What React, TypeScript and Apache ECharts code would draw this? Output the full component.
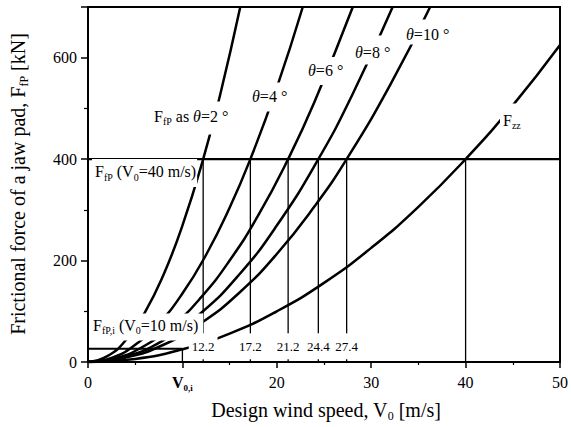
import React, { useEffect, useRef } from 'react';
import * as echarts from 'echarts';

const SERIF = '"Liberation Serif", "Times New Roman", serif';

// Curves: design wind speed V0 [m/s] vs frictional force [kN]
const theta2V = [0, 2, 4, 6, 8, 10, 12.2, 14, 16.13];
const theta2F = [0, 11, 43, 97, 172, 269, 400, 527, 700];
const theta4V = [0, 2.5, 5, 7.5, 10, 12.5, 15, 17.2, 20, 22.75];
const theta4F = [0, 8, 34, 76, 135, 211, 304, 400, 541, 700];
const theta6V = [0, 3, 6, 9, 12, 15, 18, 21.2, 24, 28.05];
const theta6F = [0, 8, 32, 72, 128, 200, 288, 400, 513, 700];
const theta8V = [0, 4, 8, 12, 16, 20, 24.4, 28, 32.27];
const theta8F = [0, 11, 43, 97, 172, 269, 400, 527, 700];
const theta10V = [0, 4, 8, 12, 16, 20, 24, 27.4, 32, 36.24];
const theta10F = [0, 9, 34, 77, 136, 213, 307, 400, 546, 700];
const fzzV = [0, 5, 10, 15, 20, 25, 30, 35, 40, 45, 50];
const fzzF = [0, 6, 25, 56, 100, 156, 225, 306, 400, 506, 625];

const crossSpeeds = [12.2, 17.2, 21.2, 24.4, 27.4];
const crossLabels = ['12.2', '17.2', '21.2', '24.4', '27.4'];
const fzzCross = 40;
const ffpLevel = 400;
const ffpiLevel = 26;
const v0i = 10;
const labelLevel = 31;

const xMin = 0, xMax = 50, xInterval = 10;
const yMin = 0, yMax = 700, yInterval = 200;

const zip = (a: number[], b: number[]) => a.map((v, i) => [v, b[i]]);

const main = { fontFamily: SERIF, fontSize: 16, lineHeight: 21, color: '#000' };
const sub = { fontFamily: SERIF, fontSize: 10, lineHeight: 10, verticalAlign: 'bottom', color: '#000' };
const ital = { fontFamily: SERIF, fontSize: 16, lineHeight: 21, fontStyle: 'italic', color: '#000' };
const rich = { m: main, s: sub, t: ital };

function label(x: number, y: number, text: string, padding: number[]) {
  return {
    type: 'text',
    x,
    y,
    z: 100,
    style: {
      text,
      rich,
      align: 'left',
      verticalAlign: 'middle',
      backgroundColor: '#fff',
      padding,
    },
  };
}

export default function App() {
  const ref = useRef<HTMLDivElement>(null);
  useEffect(() => {
    if (!ref.current) return;
    const chart = echarts.init(ref.current, undefined, { renderer: 'svg' });
    const curve = (name: string, v: number[], f: number[]) => ({
      name,
      type: 'line',
      data: zip(v, f),
      smooth: true,
      symbol: 'none',
      lineStyle: { color: '#000', width: 2.5 },
      z: 2,
    });
    const seg = (pts: number[][], width: number) => ({
      type: 'line',
      data: pts,
      symbol: 'none',
      lineStyle: { color: '#000', width },
      z: 3,
    });
    const series: any[] = [
      curve('theta2', theta2V, theta2F),
      curve('theta4', theta4V, theta4F),
      curve('theta6', theta6V, theta6F),
      curve('theta8', theta8V, theta8F),
      curve('theta10', theta10V, theta10F),
      curve('Fzz', fzzV, fzzF),
      seg([[xMin, ffpLevel], [xMax, ffpLevel]], 2.2),
      seg([[xMin, ffpiLevel], [v0i, ffpiLevel]], 2),
      seg([[v0i, 0], [v0i, ffpiLevel]], 1.3),
      ...crossSpeeds.map((v) => seg([[v, 0], [v, ffpLevel]], 1.3)),
      seg([[fzzCross, 0], [fzzCross, ffpLevel]], 1.3),
    ];

    const option: any = {
      animation: false,
      grid: {
        left: 88,
        right: 8,
        top: 7,
        bottom: 65,
        show: true,
        borderColor: '#000',
        borderWidth: 2,
        backgroundColor: 'transparent',
      },
      xAxis: {
        type: 'value',
        min: xMin,
        max: xMax,
        interval: xInterval,
        axisLine: { show: true, lineStyle: { color: '#000', width: 2 } },
        axisTick: { show: true, length: 6, lineStyle: { color: '#000', width: 1.5 } },
        minorTick: { show: true, splitNumber: 2, length: 3, lineStyle: { color: '#000', width: 1.2 } },
        splitLine: { show: false },
        axisLabel: {
          margin: 10,
          formatter: (v: number) => (v === v0i ? '{b|V}{bs|0,i}' : '{n|' + v + '}'),
          rich: {
            n: { fontFamily: SERIF, fontSize: 16, lineHeight: 20, color: '#000' },
            b: { fontFamily: SERIF, fontSize: 16, lineHeight: 20, fontWeight: 'bold', color: '#000' },
            bs: { fontFamily: SERIF, fontSize: 9, lineHeight: 9, fontWeight: 'bold', verticalAlign: 'bottom', color: '#000' },
          },
        },
      },
      yAxis: {
        type: 'value',
        min: yMin,
        max: yMax,
        interval: yInterval,
        axisLine: { show: true, lineStyle: { color: '#000', width: 2 } },
        axisTick: { show: true, length: 7, lineStyle: { color: '#000', width: 1.5 } },
        minorTick: { show: true, splitNumber: 2, length: 4, lineStyle: { color: '#000', width: 1.2 } },
        splitLine: { show: false },
        axisLabel: {
          margin: 11,
          showMaxLabel: false,
          fontFamily: SERIF,
          fontSize: 16,
          color: '#000',
        },
      },
      series,
    };
    chart.setOption(option);

    const valueLabels = crossSpeeds.map((v, i) => {
      const [px, py] = chart.convertToPixel({ gridIndex: 0 }, [v, labelLevel]) as number[];
      return {
        type: 'text',
        x: px,
        y: py,
        z: 100,
        style: {
          text: crossLabels[i],
          fontFamily: SERIF,
          fontSize: 13,
          lineHeight: 14,
          fill: '#000',
          align: 'center',
          verticalAlign: 'middle',
          backgroundColor: '#fff',
          padding: [8, 3, 4, 3],
        },
      };
    });

    chart.setOption({
      graphic: [
        ...valueLabels,
        label(150, 118, '{m|F}{s|fP}{m| as }{t|θ}{m|=2 °}', [4, 4, 8, 4]),
        label(249, 97, '{t|θ}{m|=4 °}', [3, 3, 5, 3]),
        label(305, 71, '{t|θ}{m|=6 °}', [3, 3, 4, 3]),
        label(352, 50, '{t|θ}{m|=8 °}', [6, 3, 2, 3]),
        label(403, 32, '{t|θ}{m|=10 °}', [4, 3, 0, 3]),
        label(500, 117, '{m|F}{s|zz}', [6, 3, 0, 3]),
        label(92, 173, '{m|F}{s|fP}{m| (V}{s|0}{m|=40 m/s)}', [2, 1, 5, 3]),
        label(90, 327, '{m|F}{s|fP,i}{m| (V}{s|0}{m|=10 m/s)}', [1, 5, 5, 3]),
        {
          type: 'text',
          x: 326,
          y: 410,
          z: 100,
          style: {
            text: '{m|Design wind speed, V}{s|0}{m| [m/s]}',
            rich: {
              m: { fontFamily: SERIF, fontSize: 20, lineHeight: 24, color: '#000' },
              s: { fontFamily: SERIF, fontSize: 12, lineHeight: 12, verticalAlign: 'bottom', color: '#000' },
            },
            align: 'center',
            verticalAlign: 'middle',
          },
        },
        {
          type: 'text',
          x: 18,
          y: 184,
          z: 100,
          rotation: Math.PI / 2,
          style: {
            text: '{m|Frictional force of a jaw pad, F}{s|fP}{m| [kN]}',
            rich: {
              m: { fontFamily: SERIF, fontSize: 20, lineHeight: 24, color: '#000' },
              s: { fontFamily: SERIF, fontSize: 12, lineHeight: 12, verticalAlign: 'bottom', color: '#000' },
            },
            align: 'center',
            verticalAlign: 'middle',
          },
        },
      ],
    });
    return () => chart.dispose();
  }, []);
  return (
    <div
      ref={ref}
      style={{ position: 'fixed', left: 0, top: 0, width: 571, height: 427, background: '#fff' }}
    />
  );
}
